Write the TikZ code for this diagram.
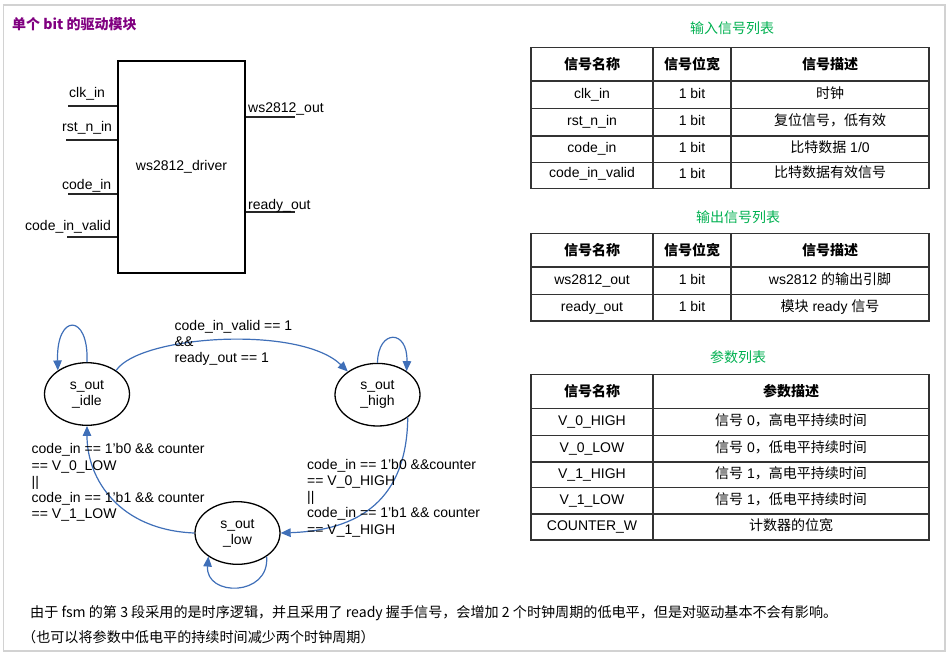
\documentclass[tikz,border=0pt]{standalone}
\usepackage{fontspec}
\setmainfont{Liberation Sans}
\newfontfamily\cjk{Noto Sans CJK SC}
\usetikzlibrary{arrows.meta,shapes.geometric}
\definecolor{framegray}{HTML}{D2D2D2}
\definecolor{ttlpurple}{HTML}{800080}
\definecolor{ttlgreen}{HTML}{00B050}
\definecolor{arrblue}{HTML}{3F6FB8}
\definecolor{tblline}{HTML}{333333}
\tikzset{
  lbl/.style={anchor=base west, inner sep=0pt},
  port/.style={line width=1.2pt, draw=black!85},
  state/.style={ellipse, draw, line width=1.3pt, minimum width=85pt, minimum height=62.6pt, inner sep=0pt, align=center, font=\fontsize{14}{16}\selectfont},
  arr/.style={draw=arrblue, line width=1.2pt, -{Triangle[length=10pt,width=8.5pt]}},
  cond/.style={anchor=north west, inner sep=0pt, align=left, font=\fontsize{14}{16.2}\selectfont},
  tbl/.style={draw=tblline, line width=1.5pt},
  cell/.style={anchor=center, inner sep=0pt, text height=10pt, text depth=3pt},
  hdr/.style={cell, font=\fontsize{14}{16}\selectfont\cjk\bfseries},
  ttl/.style={anchor=center, inner sep=0pt, text=ttlgreen, font=\fontsize{14}{16}\selectfont\cjk},
}
\begin{document}
\begin{tikzpicture}[x=1pt,y=-1pt, font=\fontsize{14}{16.5}\selectfont]
\useasboundingbox (0,0) rectangle (950,656);
\draw[framegray, line width=1.5pt] (3.5,5) rectangle (945,651);

% title
\node[anchor=west, inner sep=0pt, text=ttlpurple, font=\fontsize{14}{16}\selectfont\cjk\bfseries] (title) at (12,24) {单个 bit 的驱动模块};

% driver block
\node[draw, line width=1.3pt, minimum width=127pt, minimum height=212pt, inner sep=0pt] (drv) at (181.5,167) {ws2812\_driver};
\coordinate (pclk) at (68,106);
\coordinate (prst) at (66,140);
\coordinate (pcode) at (68,194);
\coordinate (pvalid) at (67,237);
\coordinate (pws) at (295,117);
\coordinate (prdy) at (295,212);
\draw[port] (pclk) -- (pclk -| drv.west);
\draw[port] (prst) -- (prst -| drv.west);
\draw[port] (pcode) -- (pcode -| drv.west);
\draw[port] (pvalid) -- (pvalid -| drv.west);
\draw[port] (pws -| drv.east) -- (pws);
\draw[port] (prdy -| drv.east) -- (prdy);
\node[lbl] (lclk) at (69,97) {clk\_in};
\node[lbl] (lrst) at (62,131.5) {rst\_n\_in};
\node[lbl] (lcode) at (62,189) {code\_in};
\node[lbl] (lvalid) at (25,230.5) {code\_in\_valid};
\node[lbl] (lws) at (248,112) {ws2812\_out};
\node[lbl] (lrdy) at (248,209) {ready\_out};

% state machine
\node[state] (idle) at (87,394) {s\_out\\\_idle};
\node[state] (high) at (377.5,394.7) {s\_out\\\_high};
\node[state] (low) at (237.5,533) {s\_out\\\_low};

\draw[arr] (idle.north) .. controls (89,313) and (56,313) .. (idle.141);
\draw[arr] (high.north) .. controls (378,329) and (408,329) .. (high.39);
\draw[arr] (low.-39) .. controls (270,597) and (205,597) .. (low.-141);
\draw[arr] (idle.39) .. controls (140,335) and (300,325) .. (high.142);
\draw[arr] (high.-37) .. controls (407,490) and (370,530) .. (low.east);
\draw[arr] (low.west) .. controls (120,530) and (87,480) .. (idle.south);

\node[cond] (c1) at (174.5,320) {code\_in\_valid == 1\\\&\&\\ready\_out == 1};
\node[cond] (c2) at (31.5,443.5) {code\_in == 1’b0 \&\& counter\\== V\_0\_LOW\\||\\code\_in == 1’b1 \&\& counter\\== V\_1\_LOW};
\node[cond] (c3) at (307,459) {code\_in == 1’b0 \&\&counter\\== V\_0\_HIGH\\||\\code\_in == 1’b1 \&\& counter\\== V\_1\_HIGH};

% table 1
\node[ttl] (t1) at (732,28) {输入信号列表};
\draw[tbl] (531,47.3) rectangle (929,188.3);
\foreach \yy in {81,108.7,136,162.3} \draw[tbl] (531,\yy) -- (929,\yy);
\foreach \xx in {653,731} \draw[tbl] (\xx,47.3) -- (\xx,188.3);
\node[hdr] (t1h1) at (592,65.5) {信号名称};
\node[hdr] (t1h2) at (692,65.5) {信号位宽};
\node[hdr] (t1h3) at (830,65.5) {信号描述};
\node[cell] (t1a1) at (592,94.9) {clk\_in};
\node[cell] (t1b1) at (692,94.9) {1 bit};
\node[cell] (t1c1) at (830,94.9) {\cjk 时钟};
\node[cell] (t1a2) at (592,122.4) {rst\_n\_in};
\node[cell] (t1b2) at (692,122.4) {1 bit};
\node[cell] (t1c2) at (830,122.4) {\cjk 复位信号，低有效};
\node[cell] (t1a3) at (592,149.2) {code\_in};
\node[cell] (t1b3) at (692,149.2) {1 bit};
\node[cell] (t1c3) at (830,149.2) {{\cjk 比特数据} 1/0};
\node[cell] (t1a4) at (592,174.3) {code\_in\_valid};
\node[cell] (t1b4) at (692,175.3) {1 bit};
\node[cell] (t1c4) at (830,174.3) {\cjk 比特数据有效信号};

% table 2
\node[ttl] (t2) at (738,216.7) {输出信号列表};
\draw[tbl] (531,233.7) rectangle (929,321);
\foreach \yy in {267,294.3} \draw[tbl] (531,\yy) -- (929,\yy);
\foreach \xx in {653,731} \draw[tbl] (\xx,233.7) -- (\xx,321);
\node[hdr] (t2h1) at (592,251.8) {信号名称};
\node[hdr] (t2h2) at (692,251.8) {信号位宽};
\node[hdr] (t2h3) at (830,251.8) {信号描述};
\node[cell] (t2a1) at (592,280.7) {ws2812\_out};
\node[cell] (t2b1) at (692,280.7) {1 bit};
\node[cell] (t2c1) at (830,280.7) {ws2812 {\cjk 的输出引脚}};
\node[cell] (t2a2) at (592,307.7) {ready\_out};
\node[cell] (t2b2) at (692,307.7) {1 bit};
\node[cell] (t2c2) at (830,307.7) {{\cjk 模块} ready {\cjk 信号}};

% table 3
\node[ttl] (t3) at (738,356.7) {参数列表};
\draw[tbl] (531,374.7) rectangle (929,540);
\foreach \yy in {408.3,435.7,462,487.7,514} \draw[tbl] (531,\yy) -- (929,\yy);
\draw[tbl] (653,374.7) -- (653,540);
\node[hdr] (t3h1) at (592,393) {信号名称};
\node[hdr] (t3h2) at (791,393) {参数描述};
\node[cell] (t3a1) at (592,422) {V\_0\_HIGH};
\node[cell] (t3b1) at (791,422) {{\cjk 信号} 0{\cjk ，高电平持续时间}};
\node[cell] (t3a2) at (592,448.9) {V\_0\_LOW};
\node[cell] (t3b2) at (791,448.9) {{\cjk 信号} 0{\cjk ，低电平持续时间}};
\node[cell] (t3a3) at (592,474.9) {V\_1\_HIGH};
\node[cell] (t3b3) at (791,474.9) {{\cjk 信号} 1{\cjk ，高电平持续时间}};
\node[cell] (t3a4) at (592,500.9) {V\_1\_LOW};
\node[cell] (t3b4) at (791,500.9) {{\cjk 信号} 1{\cjk ，低电平持续时间}};
\node[cell] (t3a5) at (592,527) {COUNTER\_W};
\node[cell] (t3b5) at (791,527) {\cjk 计数器的位宽};

% notes
\node[anchor=west, inner sep=0pt, font=\fontsize{14.1}{16}\selectfont\cjk] (n1) at (30,613) {由于 fsm 的第 3 段采用的是时序逻辑，并且采用了 ready 握手信号，会增加 2 个时钟周期的低电平，但是对驱动基本不会有影响。};
\node[anchor=west, inner sep=0pt, font=\fontsize{14.1}{16}\selectfont\cjk] (n2) at (22,637) {（也可以将参数中低电平的持续时间减少两个时钟周期）};
\end{tikzpicture}
\end{document}
